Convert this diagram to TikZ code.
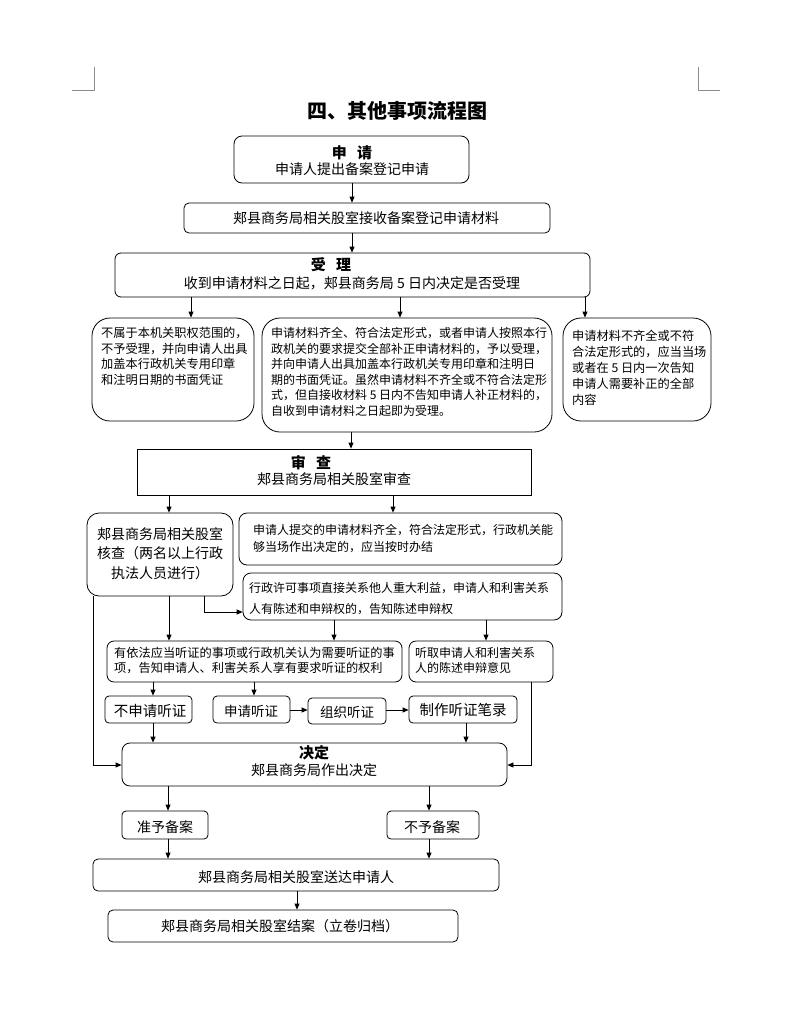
\documentclass[tikz,border=0pt]{standalone}
\usepackage{fontspec}
\setmainfont{Noto Sans CJK SC}
\usetikzlibrary{fit,arrows.meta}
\newcommand\myfs[2]{\fontsize{#1}{#2}\selectfont}
\begin{document}
\begin{tikzpicture}[x=1pt,y=-1pt,
  bx/.style={draw, line width=0.8pt, inner sep=0pt},
  txt/.style={inner sep=0pt, font=\myfs{14pt}{16pt}},
  stxt/.style={inner sep=0pt, anchor=north west, align=left},
  arr/.style={line width=0.8pt, -{Triangle[length=6pt,width=5pt]}},
  cornermark/.style={line width=0.6pt, draw=black!45}]
\useasboundingbox (0,0) rectangle (792,1018);
% corner marks
\draw[cornermark] (72,90) -- (94,90) -- (94,67);
\draw[cornermark] (698,67) -- (698,90) -- (720,90);
% title
\node[inner sep=0pt, font=\myfs{20pt}{22pt}\bfseries] (title) at (397,111) {四、其他事项流程图};
% boxes
\node[bx, rounded corners=8pt, fit={(234,136) (469,183)}] (shenqing) {};
\node[bx, rounded corners=5pt, fit={(184,203) (550,233)}] (jieshou) {};
\node[bx, rounded corners=6pt, fit={(115,253) (590,297)}] (shouli) {};
\node[bx, rounded corners=18pt, fit={(92,318) (254,421)}] (L) {};
\node[bx, rounded corners=18pt, fit={(262,318) (552,432)}] (M) {};
\node[bx, rounded corners=18pt, fit={(563,318) (711,421)}] (R) {};
\node[bx, fit={(137,449) (531,495)}] (shencha) {};
\node[bx, rounded corners=12pt, fit={(87,513) (233,596)}] (hecha) {};
\node[bx, rounded corners=8pt, fit={(239,513) (562,565)}] (A) {};
\node[bx, rounded corners=8pt, fit={(243,573) (562,620)}] (B) {};
\node[bx, rounded corners=7pt, fit={(107,641) (402,682)}] (C) {};
\node[bx, rounded corners=7pt, fit={(409,641) (553,682)}] (D) {};
\node[bx, rounded corners=4pt, fit={(105,696) (192,723)}] (bsq) {};
\node[bx, rounded corners=4pt, fit={(213,696) (290,723)}] (sq) {};
\node[bx, rounded corners=4pt, fit={(308,698) (386,724)}] (zz) {};
\node[bx, rounded corners=4pt, fit={(409,696) (517,723)}] (zb) {};
\node[bx, rounded corners=8pt, fit={(122,743) (507,786)}] (jueding) {};
\node[bx, rounded corners=4pt, fit={(122,811) (208,839)}] (zhunyu) {};
\node[bx, rounded corners=4pt, fit={(387,811) (479,839)}] (buyu) {};
\node[bx, rounded corners=5pt, fit={(93,859) (499,891)}] (songda) {};
\node[bx, rounded corners=5pt, fit={(108,910) (458,942)}] (jiean) {};
% texts
\node[txt, font=\myfs{15pt}{16pt}\bfseries] (tsq1) at (352,153) {申\hspace{0.7em}请};
\node[txt] (tsq2) at (352,169) {申请人提出备案登记申请};
\node[txt] (tjs) at (366,218) {郏县商务局相关股室接收备案登记申请材料};
\node[txt, font=\myfs{15pt}{16pt}\bfseries] (tsl1) at (331,265) {受\hspace{0.7em}理};
\node[txt] (tsl2) at (352,283) {收到申请材料之日起，郏县商务局 5 日内决定是否受理};
\node[stxt, font=\myfs{12.2pt}{15.6pt}] (tL) at (101,327) {不属于本机关职权范围的，\\不予受理，并向申请人出具\\加盖本行政机关专用印章\\和注明日期的书面凭证};
\node[stxt, font=\myfs{12pt}{15.6pt}] (tM) at (271,327) {申请材料齐全、符合法定形式，或者申请人按照本行\\政机关的要求提交全部补正申请材料的，予以受理，\\并向申请人出具加盖本行政机关专用印章和注明日\\期的书面凭证。虽然申请材料不齐全或不符合法定形\\式，但自接收材料 5 日内不告知申请人补正材料的，\\自收到申请材料之日起即为受理。};
\node[stxt, font=\myfs{12.2pt}{16pt}] (tR) at (572,330) {申请材料不齐全或不符\\合法定形式的，应当当场\\或者在 5 日内一次告知\\申请人需要补正的全部\\内容};
\node[txt, font=\myfs{15pt}{16pt}\bfseries] (tsc1) at (311,463) {审\hspace{0.7em}查};
\node[txt] (tsc2) at (334,479) {郏县商务局相关股室审查};
\node[inner sep=0pt, align=center, font=\myfs{14pt}{19.5pt}] (thc) at (160,553.5) {郏县商务局相关股室\\核查（两名以上行政\\执法人员进行）};
\node[stxt, font=\myfs{12pt}{17pt}] (tA) at (253,524) {申请人提交的申请材料齐全，符合法定形式，行政机关能\\够当场作出决定的，应当按时办结};
\node[stxt, font=\myfs{12pt}{21pt}] (tB) at (249,582) {行政许可事项直接关系他人重大利益，申请人和利害关系\\人有陈述和申辩权的，告知陈述申辩权};
\node[stxt, font=\myfs{12.2pt}{15pt}] (tC) at (114,647) {有依法应当听证的事项或行政机关认为需要听证的事\\项，告知申请人、利害关系人享有要求听证的权利};
\node[stxt, font=\myfs{12pt}{15pt}] (tD) at (415,647) {听取申请人和利害关系\\人的陈述申辩意见};
\node[txt, font=\myfs{14.5pt}{16pt}] (tbsq) at (150,711) {不申请听证};
\node[txt, font=\myfs{13.5pt}{16pt}] (tsq) at (251,711) {申请听证};
\node[txt, font=\myfs{13.5pt}{16pt}] (tzz) at (347,712) {组织听证};
\node[txt, font=\myfs{14.5pt}{16pt}] (tzb) at (463,710) {制作听证笔录};
\node[txt, font=\myfs{15pt}{16pt}\bfseries] (tjd1) at (314,753) {决定};
\node[txt] (tjd2) at (314,770) {郏县商务局作出决定};
\node[txt] (tzy) at (165,827) {准予备案};
\node[txt] (tby) at (432,827) {不予备案};
\node[txt] (tsd) at (296,877) {郏县商务局相关股室送达申请人};
\node[txt] (tja) at (280,926) {郏县商务局相关股室结案（立卷归档）};
% helper coordinates
\foreach \v in {93,153,168,169,191,204,254,297,334,351,352,393,400,429,466,486,531,585}
  \coordinate (x\v) at (\v,0);
\coordinate (y612) at (0,612);
\coordinate (y710) at (0,710);
\coordinate (y765) at (0,765);
% connectors
\draw[arr] (shenqing.south -| x352) -- (jieshou.north -| x352);
\draw[arr] (jieshou.south -| x352) -- (shouli.north -| x352);
\draw[arr] (shouli.south -| x191) -- (L.north -| x191);
\draw[arr] (shouli.south -| x400) -- (M.north -| x400);
\draw[arr] (shouli.south -| x585) -- (R.north -| x585);
\draw[arr] (M.south -| x351) -- (shencha.north -| x351);
\draw[arr] (shencha.south -| x169) -- (hecha.north -| x169);
\draw[arr] (shencha.south -| x393) -- (A.north -| x393);
\draw[arr] (hecha.south -| x204) |- (B.west |- y612);
\draw[arr] (hecha.south -| x93) |- (jueding.west |- y765);
\draw[arr] (hecha.south -| x169) -- (C.north -| x169);
\draw[arr] (B.south -| x334) -- (C.north -| x334);
\draw[arr] (B.south -| x486) -- (D.north -| x486);
\draw[arr] (C.south -| x153) -- (bsq.north -| x153);
\draw[arr] (C.south -| x254) -- (sq.north -| x254);
\draw[arr] (sq.east |- y710) -- (zz.west |- y710);
\draw[arr] (zz.east |- y710) -- (zb.west |- y710);
\draw[arr] (bsq.south -| x153) -- (jueding.north -| x153);
\draw[arr] (zb.south -| x466) -- (jueding.north -| x466);
\draw[arr] (D.south -| x531) |- (jueding.east |- y765);
\draw[arr] (jueding.south -| x168) -- (zhunyu.north -| x168);
\draw[arr] (jueding.south -| x429) -- (buyu.north -| x429);
\draw[arr] (zhunyu.south -| x168) -- (songda.north -| x168);
\draw[arr] (buyu.south -| x429) -- (songda.north -| x429);
\draw[arr] (songda.south -| x297) -- (jiean.north -| x297);
\end{tikzpicture}
\end{document}
